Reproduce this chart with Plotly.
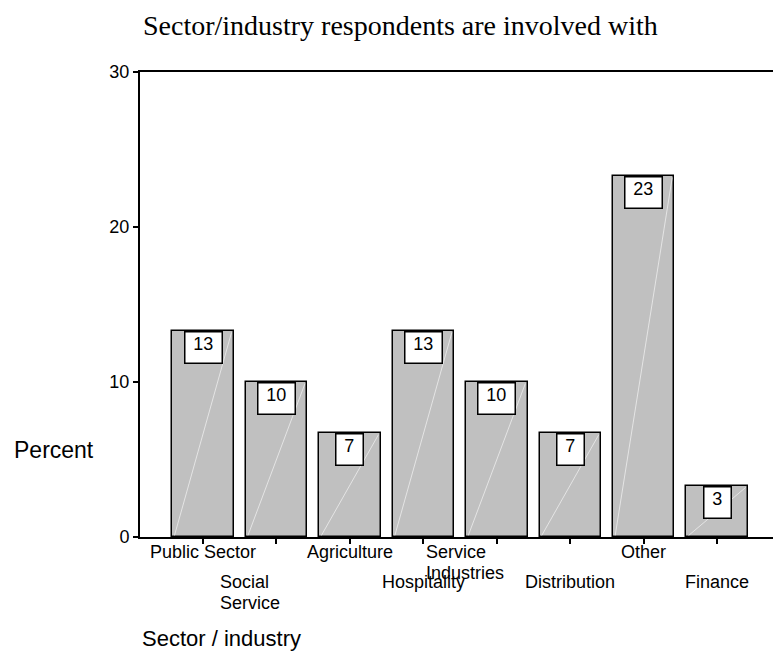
import plotly.graph_objects as go

# Share of respondents by sector / industry (percent)
categories = ["Public Sector", "Social Service", "Agriculture", "Hospitality",
              "Service Industries", "Distribution", "Other", "Finance"]
percent = [13.3, 10.0, 6.7, 13.3, 10.0, 6.7, 23.3, 3.3]
y_ticks = [0, 10, 20, 30]

title_text = "Sector/industry respondents are involved with"
x_title = "Sector / industry"
y_title = "Percent"

SANS = "Liberation Sans, Arial, sans-serif"
SERIF = "Liberation Serif, Times New Roman, serif"

W, H = 773, 651
M_L, M_R, M_T, M_B = 140, 0, 72, 114
BAR_W = 0.837

# long labels wrap onto two lines, left-aligned at the start of the unwrapped text
wrap = {"Social Service": ("Social", "Service", -58),
        "Service Industries": ("Service", "Industries", -73)}

xs = list(range(len(categories)))

fig = go.Figure()
fig.add_trace(go.Bar(
    x=xs, y=percent, width=BAR_W,
    marker=dict(color="#c0c0c0", line=dict(color="black", width=1.5)),
    hoverinfo="skip", showlegend=False,
))

# faint diagonal highlight across each bar
for x, v in zip(xs, percent):
    fig.add_trace(go.Scatter(
        x=[x - BAR_W / 2 + 0.03, x + BAR_W / 2 - 0.03], y=[0.1, v - 0.1],
        mode="lines", line=dict(color="rgba(240,240,240,0.75)", width=1),
        hoverinfo="skip", showlegend=False,
    ))

annotations = []

# value boxes at the top of each bar
for x, v in zip(xs, percent):
    txt = f"{v:.0f}"
    annotations.append(dict(
        x=x, y=v, xref="x", yref="y", text=txt, showarrow=False,
        xanchor="center", yanchor="top",
        font=dict(family=SANS, size=18, color="black"),
        bgcolor="white", bordercolor="black", borderwidth=1.5, borderpad=1,
        width=10 * len(txt) + 13.5, height=28, valign="top",
    ))

# staggered category labels
for x, name in zip(xs, categories):
    row_shift = -15 if x % 2 == 0 else -45
    if name in wrap:
        l1, l2, dx = wrap[name]
        for k, line in enumerate((l1, l2)):
            annotations.append(dict(
                x=x, y=0, xref="x", yref="paper", text=line, showarrow=False,
                xanchor="left", yanchor="middle", xshift=dx,
                yshift=row_shift - 21 * k,
                font=dict(family=SANS, size=18, color="black"),
            ))
    else:
        annotations.append(dict(
            x=x, y=0, xref="x", yref="paper", text=name, showarrow=False,
            xanchor="center", yanchor="middle", yshift=row_shift,
            font=dict(family=SANS, size=18, color="black"),
        ))

# axis titles
annotations.append(dict(
    x=0, y=0, xref="paper", yref="paper", text=y_title, showarrow=False,
    xanchor="left", yanchor="middle", xshift=-128, yshift=87,
    font=dict(family=SANS, size=23, color="black"),
))
annotations.append(dict(
    x=0, y=0, xref="paper", yref="paper", text=x_title, showarrow=False,
    xanchor="left", yanchor="top", xshift=0, yshift=-87,
    font=dict(family=SANS, size=22, color="black"),
))

fig.update_layout(
    width=W, height=H,
    margin=dict(l=M_L, r=M_R, t=M_T, b=M_B, pad=0),
    paper_bgcolor="white", plot_bgcolor="white",
    title=dict(text=title_text, x=143 / W, xanchor="left", xref="paper",
               y=1 - 25 / H, yanchor="middle", yref="container",
               font=dict(family=SERIF, size=28, color="black")),
    annotations=annotations,
    bargap=0,
)
fig.update_layout(title_xref="container")

fig.update_xaxes(
    range=[-0.858, 7.76], tickvals=xs, showticklabels=False,
    ticks="outside", ticklen=5, tickwidth=1.5, tickcolor="black",
    showline=True, linecolor="black", linewidth=2, mirror=True,
    showgrid=False, zeroline=False,
)
fig.update_yaxes(
    range=[0, 30], tickvals=y_ticks,
    ticks="outside", ticklen=5, tickwidth=1.5, tickcolor="black",
    tickfont=dict(family=SANS, size=18, color="black"),
    showline=True, linecolor="black", linewidth=2,
    showgrid=False, zeroline=False,
)

fig.write_html("out.html")
